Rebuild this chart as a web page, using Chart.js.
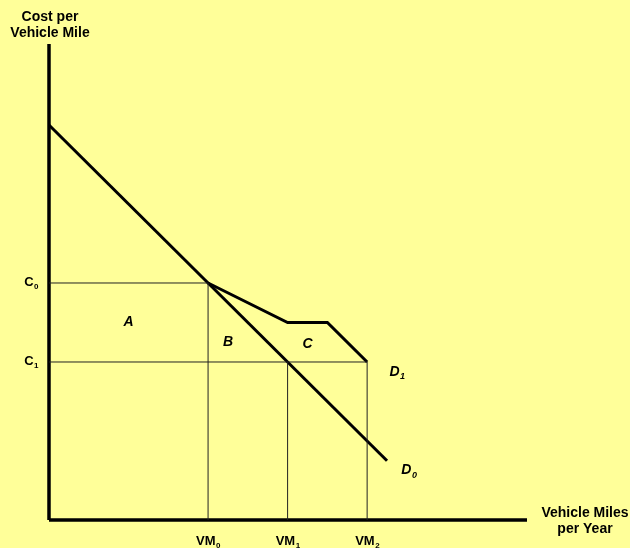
<!DOCTYPE html>
<html>
<head>
<meta charset="utf-8">
<script src="https://cdn.jsdelivr.net/npm/chart.js@4/dist/chart.umd.min.js"></script>
<style>
  html, body { margin: 0; padding: 0; background: #FFFF99; }
  #wrap { width: 630px; height: 548px; }
</style>
</head>
<body>
<div id="wrap"><canvas id="myChart" width="630" height="548"></canvas></div>
<script>
// demand curves (x = vehicle miles, y = cost per mile)
const D0 = [[0, 10], [8.5, 1.5]]
const D1 = [[4, 6], [6, 5], [7, 5], [8, 4]]
// reference levels
const costLabels = ['C', 'C']
const costSubs = ['0', '1']
const costValues = [6, 4]
const vmLabels = ['VM', 'VM', 'VM']
const vmSubs = ['0', '1', '2']
const vmValues = [4, 6, 8]
// where each cost line stops on the right
const costEnds = [4, 8]
// where each VM line stops at the top
const vmTops = [6, 4, 4]
// text in the plot
const areaNames = ['A', 'B', 'C']
const areaPos = [[2, 5], [4.5, 4.5], [6.5, 4.45]]
const curveNames = ['D', 'D']
const curveSubs = ['1', '0']
const curvePos = [[8.75, 3.75], [9.05, 1.25]]

const X_MAX = 12.02
const Y_MAX = 12.05

const toPts = arr => arr.map(p => ({ x: p[0], y: p[1] }))

var datasets = []
// thin guide lines
costValues.forEach((c, i) => {
    datasets.push({ data: [{ x: 0, y: c }, { x: costEnds[i], y: c }], borderColor: '#222', borderWidth: 1 })
})
vmValues.forEach((v, i) => {
    datasets.push({ data: [{ x: v, y: 0 }, { x: v, y: vmTops[i] }], borderColor: '#222', borderWidth: 1 })
})
// demand lines
datasets.push({ data: toPts(D0), borderColor: '#000', borderWidth: 3 })
datasets.push({ data: toPts(D1), borderColor: '#000', borderWidth: 3 })
// axes
datasets.push({ data: [{ x: 0, y: 0 }, { x: 0, y: Y_MAX }], borderColor: '#000', borderWidth: 3.5 })
datasets.push({ data: [{ x: 0, y: 0 }, { x: X_MAX, y: 0 }], borderColor: '#000', borderWidth: 3.5 })

datasets.forEach(d => {
    d.showLine = true
    d.pointRadius = 0
    d.fill = false
    d.clip = false
    d.borderCapStyle = 'butt'
})

// text with a small subscript after it
function subText(ctx, main, sub, x, y, size, italic, align) {
    const f = (italic ? 'italic ' : '') + 'bold '
    const subSize = Math.round(size * 0.65)
    ctx.font = f + size + 'px "Liberation Sans", Arial, sans-serif'
    const w1 = ctx.measureText(main).width
    ctx.font = f + subSize + 'px "Liberation Sans", Arial, sans-serif'
    const w2 = sub ? ctx.measureText(sub).width : 0
    let start = x
    if (align === 'center') start = x - (w1 + w2) / 2
    if (align === 'right') start = x - (w1 + w2)
    ctx.textAlign = 'left'
    ctx.textBaseline = 'middle'
    ctx.font = f + size + 'px "Liberation Sans", Arial, sans-serif'
    ctx.fillText(main, start, y)
    if (sub) {
        ctx.font = f + subSize + 'px "Liberation Sans", Arial, sans-serif'
        ctx.fillText(sub, start + w1 + 0.5, y + size * 0.35)
    }
}

const labelsPlugin = {
    id: 'labels',
    afterDraw(chart) {
        const ctx = chart.ctx
        const xs = chart.scales.x, ys = chart.scales.y
        ctx.save()
        ctx.fillStyle = '#000'
        costValues.forEach((c, i) => {
            subText(ctx, costLabels[i], costSubs[i], 38, ys.getPixelForValue(c) - 1, 13, false, 'right')
        })
        vmValues.forEach((v, i) => {
            subText(ctx, vmLabels[i], vmSubs[i], xs.getPixelForValue(v), 541, 13, false, 'center')
        })
        areaNames.forEach((n, i) => {
            subText(ctx, n, '', xs.getPixelForValue(areaPos[i][0]), ys.getPixelForValue(areaPos[i][1]), 14, true, 'center')
        })
        curveNames.forEach((n, i) => {
            subText(ctx, n, curveSubs[i], xs.getPixelForValue(curvePos[i][0]), ys.getPixelForValue(curvePos[i][1]), 14, true, 'center')
        })
        // axis titles
        ctx.font = 'bold 14px "Liberation Sans", Arial, sans-serif'
        ctx.textAlign = 'center'
        ctx.textBaseline = 'middle'
        ctx.fillText('Cost per', 50, 17)
        ctx.fillText('Vehicle Mile', 50, 33)
        ctx.fillText('Vehicle Miles', 585, 513)
        ctx.fillText('per Year', 585, 529)
        ctx.restore()
    }
}

var chart = new Chart(document.getElementById('myChart'), {
    type: 'scatter',
    data: { datasets: datasets },
    options: {
        responsive: false,
        animation: false,
        layout: { padding: { left: 49, right: 103, top: 44, bottom: 28 } },
        plugins: { legend: { display: false }, tooltip: { enabled: false } },
        scales: {
            x: { type: 'linear', min: 0, max: X_MAX, display: false },
            y: { type: 'linear', min: 0, max: Y_MAX, display: false }
        }
    },
    plugins: [labelsPlugin]
})
</script>
</body>
</html>
